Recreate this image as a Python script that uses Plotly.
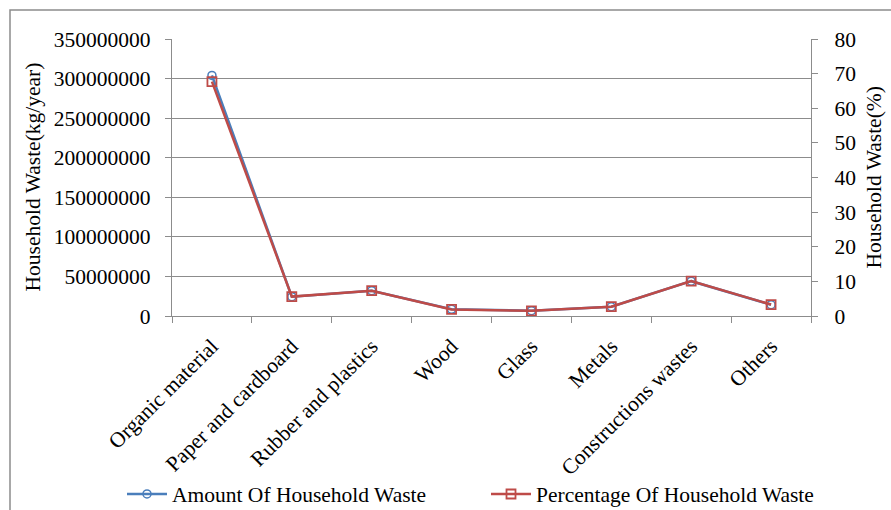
import plotly.graph_objects as go

# Household waste composition by category
categories = [
    "Organic material",
    "Paper and cardboard",
    "Rubber and plastics",
    "Wood",
    "Glass",
    "Metals",
    "Constructions wastes",
    "Others",
]
amount_kg_per_year = [304e6, 24.4e6, 32e6, 8.5e6, 6.7e6, 11.7e6, 44e6, 14.3e6]
percentage = [67.7, 5.6, 7.3, 1.9, 1.5, 2.7, 10.1, 3.3]

left_ticks = [0, 50000000, 100000000, 150000000, 200000000, 250000000, 300000000, 350000000]
right_ticks = [0, 10, 20, 30, 40, 50, 60, 70, 80]

BLUE = "#4A7EBB"
RED = "#BE4B48"
GRID = "#8C8C8C"
FONT = "Liberation Serif"
FS = 21.5

# plot area in pixels: x 172..811, y 39..316
W, H = 891, 510
L, R, T, B = 172, 811, 39, 316
pw, ph = R - L, B - T


def px_x(x):
    return (x - L) / pw


def px_y(y):
    return (B - y) / ph


fig = go.Figure()

fig.add_trace(go.Scatter(
    x=categories, y=amount_kg_per_year, name="Amount Of Household Waste",
    mode="lines+markers", yaxis="y", legend="legend",
    line=dict(color=BLUE, width=2.5),
    marker=dict(symbol="circle-open", size=8, color=BLUE, line=dict(width=1.5)),
))
fig.add_trace(go.Scatter(
    x=categories, y=percentage, name="Percentage Of Household Waste",
    mode="lines+markers", yaxis="y2", legend="legend2",
    line=dict(color=RED, width=2.5),
    marker=dict(symbol="square-open", size=9, color=RED, line=dict(width=1.8)),
))

legend_common = dict(
    orientation="h", yanchor="middle", y=px_y(494), xanchor="left",
    font=dict(family=FONT, size=FS), itemwidth=40,
    bgcolor="rgba(0,0,0,0)", borderwidth=0,
)

fig.update_layout(
    width=W, height=H,
    margin=dict(l=L, r=W - R, t=T, b=H - B, autoexpand=False),
    paper_bgcolor="white", plot_bgcolor="white",
    font=dict(family=FONT, size=FS, color="black"),
    showlegend=True,
    legend=dict(legend_common, x=px_x(122)),
    legend2=dict(legend_common, x=px_x(486)),
    xaxis=dict(
        type="category",
        tickangle=-45,
        tickson="boundaries",
        ticks="outside", ticklen=6, tickcolor=GRID, tickwidth=1.3,
        showline=True, linecolor=GRID, linewidth=1.3,
        showgrid=False,
        tickfont=dict(family=FONT, size=FS),
        range=[-0.5, 7.5],
        ticklabelstandoff=8,
        automargin=False,
    ),
    yaxis=dict(
        range=[0, 350000000],
        tickvals=left_ticks,
        ticktext=[str(v) for v in left_ticks],
        ticks="outside", ticklen=6, tickcolor=GRID, tickwidth=1.3,
        showline=True, linecolor=GRID, linewidth=1.3,
        showgrid=True, gridcolor=GRID, gridwidth=1.3,
        zeroline=False,
        tickfont=dict(family=FONT, size=FS),
        ticklabelstandoff=10,
        automargin=False,
    ),
    yaxis2=dict(
        overlaying="y", side="right",
        range=[0, 80],
        tickvals=right_ticks,
        ticks="outside", ticklen=6, tickcolor=GRID, tickwidth=1.3,
        showline=True, linecolor=GRID, linewidth=1.3,
        showgrid=False, zeroline=False,
        tickfont=dict(family=FONT, size=FS),
        ticklabelstandoff=12,
        automargin=False,
    ),
    shapes=[
        dict(type="rect", xref="paper", yref="paper",
             x0=px_x(10), x1=px_x(905), y0=px_y(525), y1=px_y(10),
             line=dict(color=GRID, width=1.5), fillcolor="rgba(0,0,0,0)",
             layer="below"),
    ],
    annotations=[
        dict(text="Household Waste(kg/year)", xref="paper", yref="paper",
             x=px_x(32), y=0.5, textangle=-90, showarrow=False,
             xanchor="center", yanchor="middle",
             font=dict(family=FONT, size=FS)),
        dict(text="Household Waste(%)", xref="paper", yref="paper",
             x=px_x(873), y=0.5, textangle=-90, showarrow=False,
             xanchor="center", yanchor="middle",
             font=dict(family=FONT, size=FS)),
    ],
)

fig.write_html("out.html")
